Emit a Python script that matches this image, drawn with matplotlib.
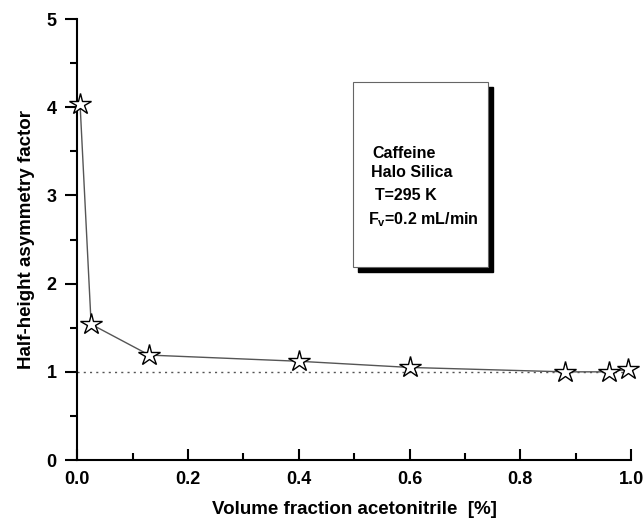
import numpy as np
import matplotlib.pyplot as plt
from matplotlib.patches import Rectangle
from matplotlib.ticker import MultipleLocator

plt.rcParams['font.family'] = ['Liberation Sans', 'DejaVu Sans']
plt.rcParams['font.weight'] = 'bold'

# Data
frac = [0.005, 0.025, 0.13, 0.40, 0.60, 0.88, 0.96, 0.995]
asym = [4.04, 1.54, 1.19, 1.12, 1.05, 1.00, 1.00, 1.03]
box_lines = ['Caffeine', 'Halo Silica', 'T=295 K', r'F$_\mathregular{v}$=0.2 mL/min']

fig = plt.figure(figsize=(6.44, 5.30), dpi=100)
ax = fig.add_axes([0.12, 0.132, 0.86, 0.832])

ax.axhline(1.0, color='#555555', lw=1.0, ls=(0, (1.5, 3)), zorder=1)
ax.plot(frac, asym, color='#555555', lw=1.0, marker='*', ms=16,
        mfc='white', mec='black', mew=1.0, zorder=3, clip_on=False)

ax.set_xlim(0, 1.0)
ax.set_ylim(0, 5)
ax.xaxis.set_major_locator(MultipleLocator(0.2))
ax.xaxis.set_minor_locator(MultipleLocator(0.1))
ax.yaxis.set_major_locator(MultipleLocator(1))
ax.yaxis.set_minor_locator(MultipleLocator(0.5))
ax.xaxis.set_major_formatter(plt.FormatStrFormatter('%.1f'))

for s in ['top', 'right']:
    ax.spines[s].set_visible(False)
for s in ['left', 'bottom']:
    ax.spines[s].set_linewidth(1.5)

ax.tick_params(axis='x', which='both', direction='in', width=1.5, labelsize=13, pad=8)
ax.tick_params(axis='x', which='major', length=8)
ax.tick_params(axis='x', which='minor', length=5)
ax.tick_params(axis='y', which='both', direction='out', width=1.5, labelsize=13, pad=6)
ax.tick_params(axis='y', which='major', length=9)
ax.tick_params(axis='y', which='minor', length=5)

ax.set_xlabel('Volume fraction acetonitrile  [%]', fontsize=13.5, fontweight='bold', labelpad=9)
ax.set_ylabel('Half-height asymmetry factor', fontsize=13.5, fontweight='bold', labelpad=8)

# Annotation box with drop shadow
bx, by, bw, bh = 0.498, 0.437, 0.244, 0.42
sx, sy = 5 / 554, 5 / 441
ax.add_patch(Rectangle((bx + sx, by - sy), bw, bh, transform=ax.transAxes,
                       facecolor='black', edgecolor='black', zorder=4))
ax.add_patch(Rectangle((bx, by), bw, bh, transform=ax.transAxes,
                       facecolor='white', edgecolor='#666666', lw=0.8, zorder=5))
text_pos = [(0.532, 0.696), (0.531, 0.651), (0.538, 0.599), (0.525, 0.546)]
for (tx, ty), line in zip(text_pos, box_lines):
    ax.text(tx, ty, line, transform=ax.transAxes, fontsize=11.5, fontweight='bold',
            ha='left', va='center', zorder=6)

fig.savefig('out.png', dpi=100)
